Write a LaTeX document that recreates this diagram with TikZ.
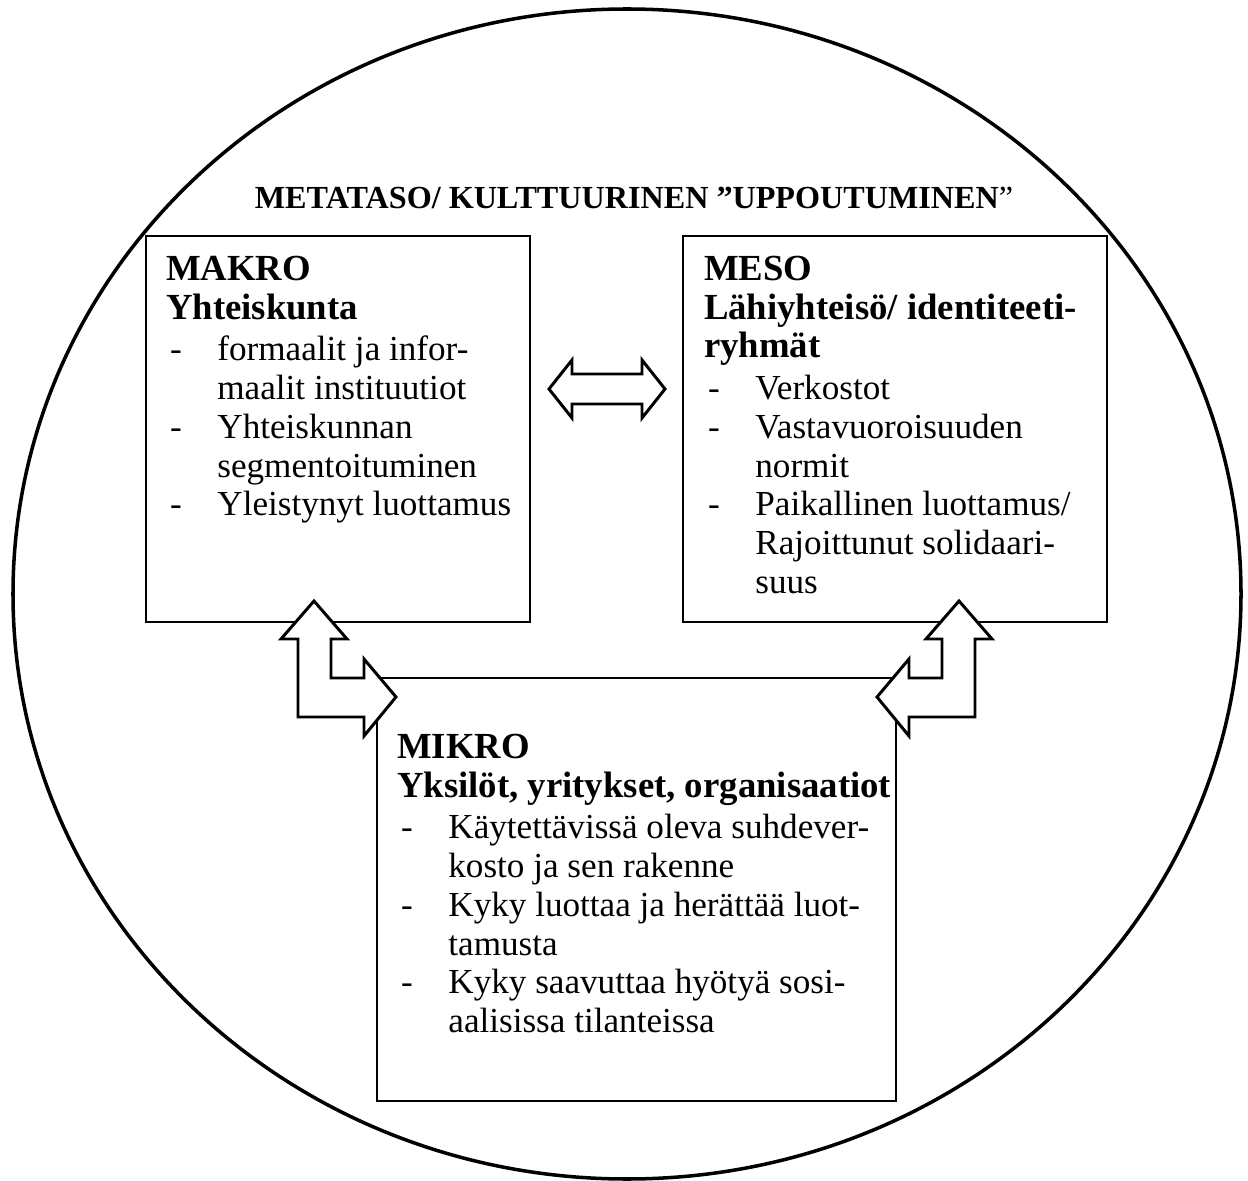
\documentclass[tikz,border=0pt]{standalone}
\usepackage{fontspec}
\setmainfont{Liberation Serif}
\usetikzlibrary{fit}
\newcommand\dashitem{\makebox[19pt][l]{\hspace{1.5pt}-}}
\newcommand\contitem{\hspace*{19pt}}
\newcommand\levelhead[1]{{\fontsize{13.6}{14}\selectfont\bfseries #1}}
\begin{document}
\begin{tikzpicture}[x=0.37pt,y=-0.37pt,
  box/.style={draw,line width=1.1pt,inner sep=0pt},
  txt/.style={anchor=north west,inner sep=0pt,align=left,font=\fontsize{13}{14.35}\selectfont},
  blockarrow/.style={draw,fill=white,line width=1.1pt,line join=miter}]
\useasboundingbox (0,0) rectangle (1248,1181);
\draw[line width=1.3pt] (627,594) ellipse [x radius=614,y radius=585];
\node[font=\fontsize{11.9}{14}\selectfont] (meta) at (634,198)
  {\textbf{METATASO/ KULTTUURINEN ”UPPOUTUMINEN}”};
% the three levels
\node[box,fit={(146,236) (530,622)}] (makro) {};
\node[box,fit={(683,236) (1107,622)}] (meso) {};
\node[box,fit={(377,678) (896,1101)}] (mikro) {};
\node[txt] (makrotxt) at ([shift={(21,21)}]makro.north west)
  {\levelhead{MAKRO}\\ \levelhead{Yhteiskunta}\\[1pt]
   \dashitem formaalit ja infor-\\ \contitem maalit instituutiot\\
   \dashitem Yhteiskunnan\\ \contitem segmentoituminen\\
   \dashitem Yleistynyt luottamus};
\node[txt] (mesotxt) at ([shift={(22,21)}]meso.north west)
  {\levelhead{MESO}\\ \levelhead{Lähiyhteisö/ identiteeti-}\\ \levelhead{ryhmät}\\[1pt]
   \dashitem Verkostot\\
   \dashitem Vastavuoroisuuden\\ \contitem normit\\
   \dashitem Paikallinen luottamus/\\ \contitem Rajoittunut solidaari-\\ \contitem suus};
\node[txt] (mikrotxt) at ([shift={(21,57)}]mikro.north west)
  {\levelhead{MIKRO}\\ \levelhead{Yksilöt, yritykset, organisaatiot}\\[1pt]
   \dashitem Käytettävissä oleva suhdever-\\ \contitem kosto ja sen rakenne\\
   \dashitem Kyky luottaa ja herättää luot-\\ \contitem tamusta\\
   \dashitem Kyky saavuttaa hyötyä sosi-\\ \contitem aalisissa tilanteissa};
% block arrows
\draw[blockarrow] (549,389) -- (572,360) -- (572,374) -- (642,374) -- (642,360)
  -- (665,389) -- (642,418) -- (642,404) -- (572,404) -- (572,418) -- cycle;
\draw[blockarrow] (314,601) -- (347,639) -- (331,639) -- (331,678) -- (364,678)
  -- (364,659) -- (396,697) -- (364,736) -- (364,717) -- (298,717) -- (298,639)
  -- (281,639) -- cycle;
\draw[blockarrow] (959,601) -- (992,639) -- (975,639) -- (975,717) -- (909,717)
  -- (909,736) -- (877,697) -- (909,659) -- (909,678) -- (942,678) -- (942,639)
  -- (926,639) -- cycle;
\end{tikzpicture}
\end{document}
